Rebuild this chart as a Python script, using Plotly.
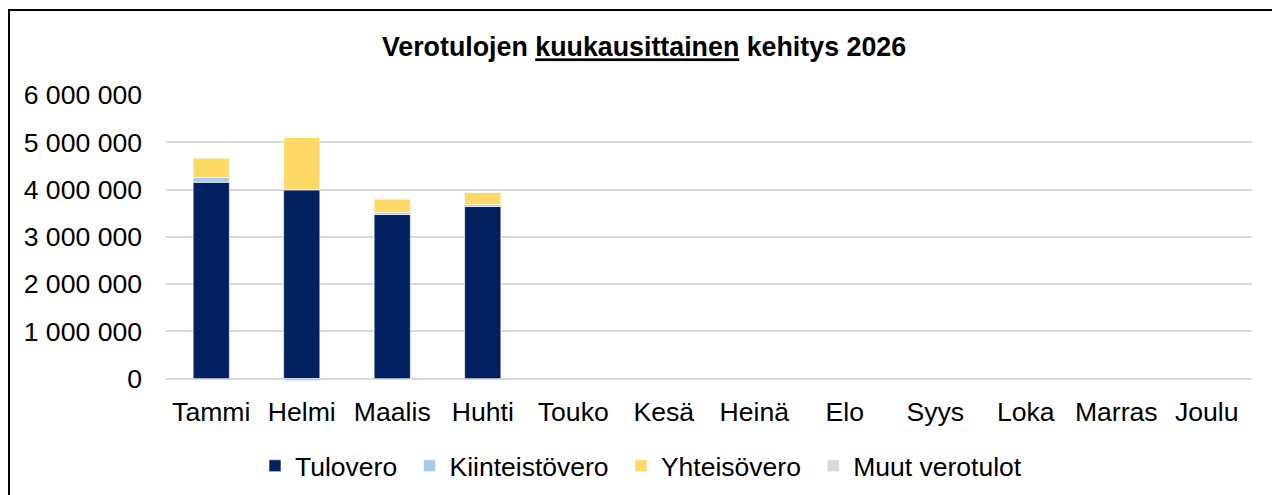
import plotly.graph_objects as go

months = ["Tammi", "Helmi", "Maalis", "Huhti", "Touko", "Kesä", "Heinä",
          "Elo", "Syys", "Loka", "Marras", "Joulu"]
tulovero = [4155000, 3993000, 3472000, 3641000, None, None, None, None, None, None, None, None]
kiinteistovero = [99000, -45000, 42000, 42000, None, None, None, None, None, None, None, None]
yhteisovero = [415000, 1113000, 289000, 261000, None, None, None, None, None, None, None, None]
muut_verotulot = [0, 0, 0, 0, None, None, None, None, None, None, None, None]

series_names = ["Tulovero", "Kiinteistövero", "Yhteisövero", "Muut verotulot"]
series_values = [tulovero, kiinteistovero, yhteisovero, muut_verotulot]
series_colors = ["#002060", "#A9C9EA", "#FFD966", "#D9D9D6"]

FONT = "Liberation Sans, Arial, sans-serif"

fig = go.Figure()
for i, (name, vals, color) in enumerate(zip(series_names, series_values, series_colors)):
    label = name + ("\u00a0" if i < len(series_names) - 1 else "")
    fig.add_trace(go.Bar(
        x=months, y=vals, name=label,
        marker=dict(color=color, line=dict(color="rgba(255,255,255,0.8)", width=0.75)),
    ))

# The page body has an 8px margin, so figure coords = screenshot coords - 8
W, H = 1272, 487
L, R, T, B = 158, 1244, 87, 373.4
pw, ph = R - L, B - T

fig.update_layout(
    width=W, height=H,
    barmode="relative",
    bargap=0.6,
    separators=", ",
    paper_bgcolor="white",
    plot_bgcolor="white",
    font=dict(family=FONT, size=26.6, color="#000000"),
    margin=dict(l=L, r=W - R, t=T, b=H - B, pad=0, autoexpand=False),
    title=dict(
        text="<b>Verotulojen <u>kuukausittainen</u> kehitys 2026</b>",
        x=636 / W, xanchor="center", xref="container",
        y=1 - 39 / H, yanchor="middle", yref="container",
        font=dict(family=FONT, size=26.8, color="#000000"),
    ),
    xaxis=dict(
        showgrid=False, showline=False, zeroline=False,
        ticks="", tickfont=dict(size=26.6),
        range=[-0.5, 11.5],
        ticklabelstandoff=12,
    ),
    yaxis=dict(
        range=[-50000, 6000000],
        tick0=0, dtick=1000000,
        tickformat=",d",
        showgrid=True, gridcolor="#D9D9D9", gridwidth=1.5,
        zeroline=False, showline=False, ticks="",
        tickfont=dict(size=26.6),
        ticklabelstandoff=23,
    ),
    legend=dict(
        orientation="h",
        xref="container", yref="container",
        x=247 / W, xanchor="left",
        y=1 - 458 / H, yanchor="middle",
        font=dict(family=FONT, size=26.5),
        traceorder="normal",
        itemwidth=30,
    ),
    showlegend=True,
    shapes=[dict(
        type="rect", xref="paper", yref="paper",
        x0=(1 - L) / pw, x1=(1300 - L) / pw,
        y0=(B - 520) / ph, y1=(B - 2) / ph,
        line=dict(color="#000000", width=2),
        fillcolor="rgba(0,0,0,0)", layer="below",
    )],
)

fig.write_html("out.html")
